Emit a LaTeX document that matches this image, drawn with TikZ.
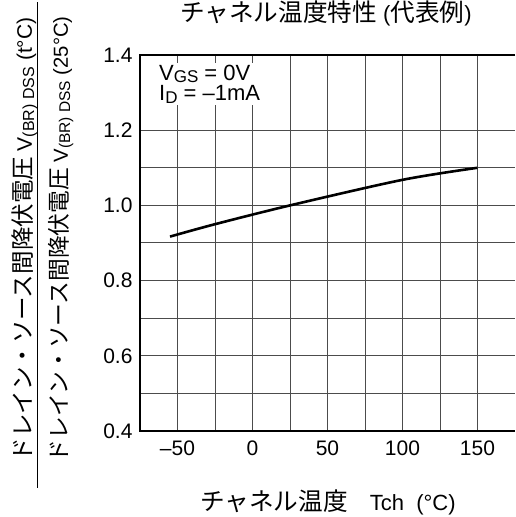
\documentclass[tikz,border=0pt]{standalone}
\usepackage{fontspec}
\setmainfont{Liberation Sans}
\newfontfamily\jp[Scale=1.12]{Noto Sans CJK JP}
\newcommand{\lowsub}[2][16]{\raisebox{-0.1em}{\fontsize{#1}{#1}\selectfont #2}}
\usetikzlibrary{positioning}

\begin{document}
\begin{tikzpicture}[x=1pt,y=1pt,font=\fontsize{22}{22}\selectfont]
  \useasboundingbox (0,0) rectangle (515,517);
  \tikzstyle{grid}=[black!70,line width=1pt]
  \tikzstyle{frame}=[black,line width=2.6pt]
  \tikzstyle{tick}=[font=\fontsize{21}{21}\selectfont]
  \tikzstyle{ylab}=[rotate=90,anchor=base west,font=\fontsize{21}{21}\selectfont]
  \begin{scope}[shift={(252.5pt,-64.4pt)},x=1.5pt,y=376pt]
    \foreach \t in {-50,-25,...,150} \draw[grid] (\t,0.4) -- (\t,1.4);
    \foreach \v in {0.5,0.6,...,1.3} \draw[grid] (-75,\v) -- (175,\v);
    \draw[frame] (175,1.4) -- (-75,1.4) -- (-75,0.4) -- (175,0.4);
    \node (cond) [fill=white,inner sep=2pt,align=left,anchor=north west,font=\fontsize{22}{20.5}\selectfont] at (-63.7,1.379)
      {V\lowsub[17]{GS} = 0V\\I\lowsub[17]{D} = --1mA};
    \draw[line width=2.6pt] plot[smooth] coordinates {(-55,0.917) (-25,0.950) (25,1.0) (100,1.068) (150,1.10)};
    \foreach \v [count=\i] in {0.4,0.6,0.8,1.0,1.2,1.4}
      \node (ytick\i) [tick,anchor=east,xshift=-4pt] at (-75,\v) {\v};
    \foreach \t/\txt [count=\i] in {-50/--50,0/0,50/50,100/100,150/150}
      \node (xtick\i) [tick,anchor=north,yshift=-6.5pt] at (\t,0.4) {\txt};
  \end{scope}
  \node (title) at (326,504) {{\jp チャネル温度特性} ({\jp 代表例})};
  \node (xlabel) at (328,15) {{\jp チャネル温度}\quad Tch\ \ (°C)};
  \node (num) [ylab] at (32,52)
    {{\jp ドレイン・ソース間降伏電圧} V\lowsub{(BR) DSS} (t°C)};
  \node (den) [ylab,font=\fontsize{20.3}{20.3}\selectfont] at (68,51)
    {{\jp ドレイン・ソース間降伏電圧} V\lowsub[15.5]{(BR) DSS} (25°C)};
  \coordinate (barlo) at (37.7,29);
  \coordinate (barhi) at (37.7,515);
  \draw[line width=1pt] (barlo) -- (barhi);
\end{tikzpicture}
\end{document}
